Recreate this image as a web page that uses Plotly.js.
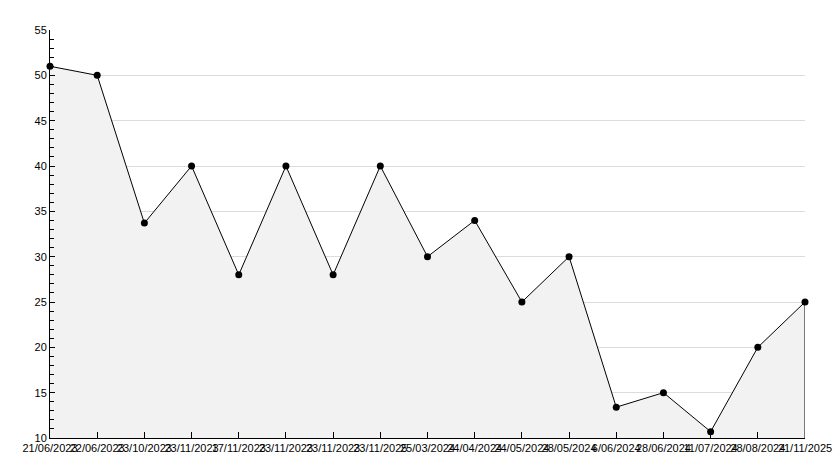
<!DOCTYPE html>
<html>
<head>
<meta charset="utf-8">
<script src="https://cdn.plot.ly/plotly-3.0.1.min.js"></script>
<style>html,body{margin:0;padding:0;background:#fff;}#chart{width:834px;height:468px;}</style>
</head>
<body>
<div id="chart"></div>
<script>
const dates = ["21/06/2023","22/06/2023","23/10/2023","23/11/2023","17/11/2023","23/11/2023","23/11/2023","23/11/2025","25/03/2024","24/04/2024","24/05/2024","28/05/2024","6/06/2024","28/06/2024","11/07/2024","28/08/2024","21/11/2025"];
const values = [51, 50, 33.7, 40, 28, 40, 28, 40, 30, 34, 25, 30, 13.4, 15, 10.7, 20, 25];
const yTicks = [10, 15, 20, 25, 30, 35, 40, 45, 50, 55];

const idx = dates.map((d, i) => i);
const last = idx.length - 1;

const traces = [
  {
    x: idx, y: values, type: 'scatter', mode: 'lines+markers',
    fill: 'tozeroy', fillcolor: '#f2f2f2',
    line: {color: '#000', width: 1},
    marker: {color: '#000', size: 7, symbol: 'circle'},
    cliponaxis: false, hoverinfo: 'skip'
  },
  {
    x: [last, last], y: [values[last], yTicks[0]], type: 'scatter', mode: 'lines',
    line: {color: '#000', width: 1}, hoverinfo: 'skip', showlegend: false,
    cliponaxis: false
  }
];

const layout = {
  width: 834, height: 468,
  margin: {l: 50, r: 29, t: 30, b: 30, pad: 0},
  paper_bgcolor: '#fff', plot_bgcolor: '#fff',
  showlegend: false,
  font: {family: 'Liberation Sans, Arial, sans-serif', size: 11, color: '#000'},
  xaxis: {
    range: [0, last], tickmode: 'array', tickvals: idx, ticktext: dates,
    tickangle: 0, ticks: 'inside', ticklen: 6, tickcolor: '#000',
    showline: true, linecolor: '#000', linewidth: 1,
    showgrid: false, zeroline: false, automargin: false,
    tickfont: {size: 11, color: '#000'}
  },
  yaxis: {
    range: [10, 55], tickmode: 'array', tickvals: yTicks,
    ticks: 'inside', ticklen: 5, tickcolor: '#000',
    minor: {dtick: 1, tick0: 10, ticks: 'inside', ticklen: 4, tickcolor: '#000', showgrid: false},
    showline: true, linecolor: '#000', linewidth: 1,
    showgrid: true, gridcolor: '#dcdcdc', gridwidth: 1,
    zeroline: false, automargin: false,
    tickfont: {size: 11, color: '#000'}
  }
};

Plotly.newPlot('chart', traces, layout, {staticPlot: true, displayModeBar: false});
</script>
</body>
</html>
